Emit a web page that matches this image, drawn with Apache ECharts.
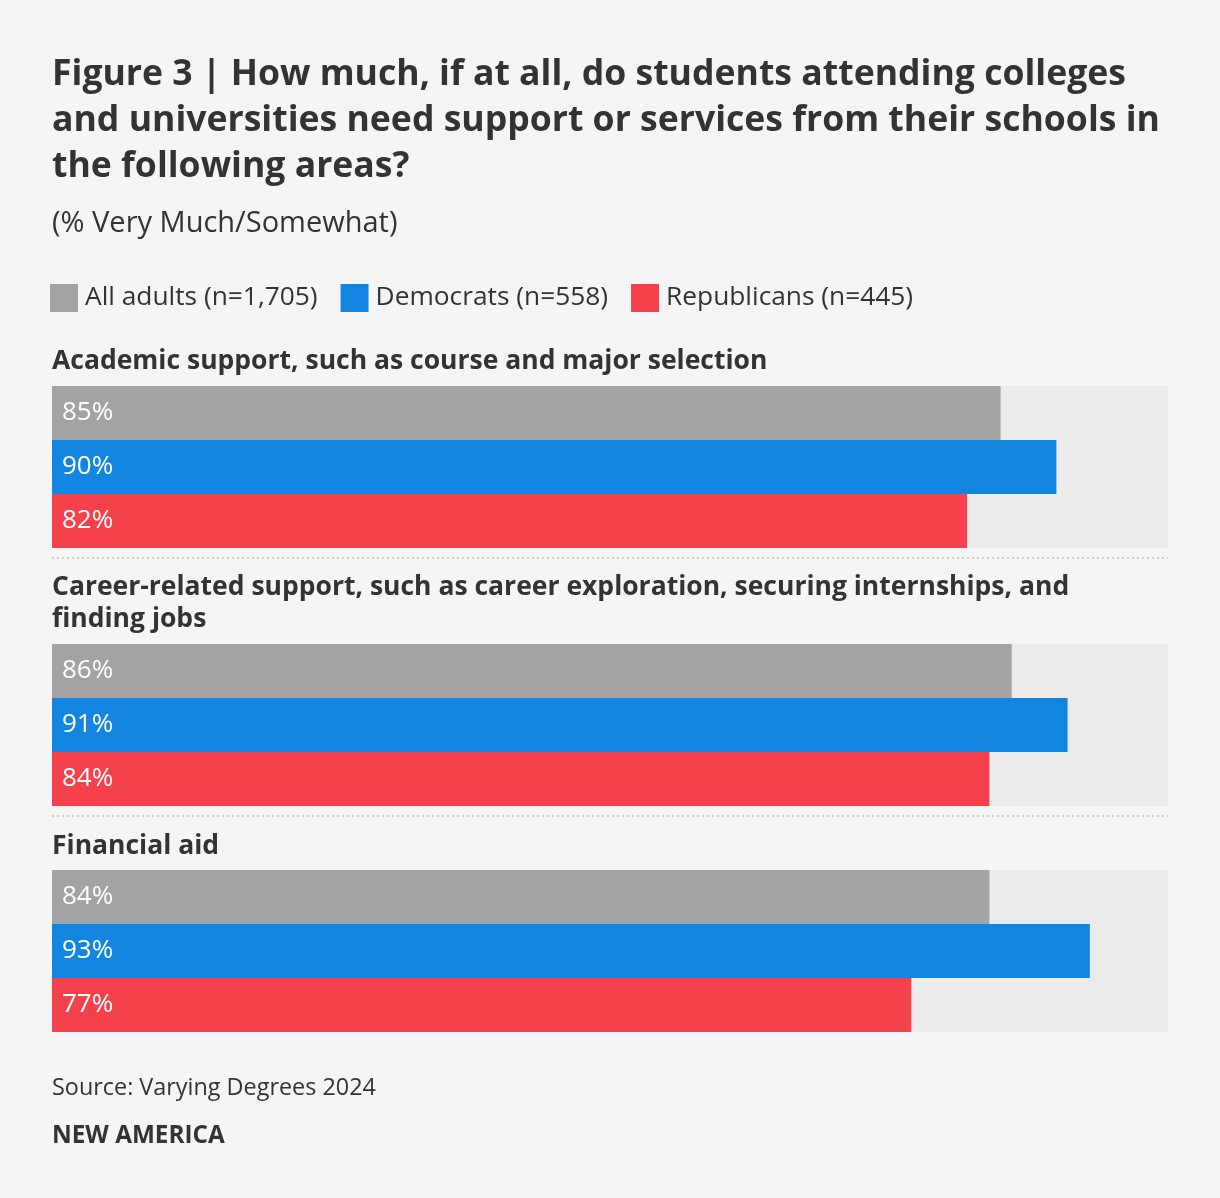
<!DOCTYPE html>
<html>
<head>
<meta charset="utf-8">
<title>Figure 3</title>
<script src="https://cdn.jsdelivr.net/npm/echarts@6/dist/echarts.min.js"></script>
<style>
  html, body { margin: 0; padding: 0; background: #f5f5f5; }
</style>
</head>
<body>
	<div id="main" style="width: 1220px; height: 1198px;"></div>

	<script type="text/javascript">
		// data
		var groups = [
		    'Academic support, such as course and major selection',
		    'Career-related support, such as career exploration, securing internships, and\nfinding jobs',
		    'Financial aid'
		];
		var seriesNames = ['All adults (n=1,705)', 'Democrats (n=558)', 'Republicans (n=445)'];
		var allAdults   = [85, 86, 84];
		var democrats   = [90, 91, 93];
		var republicans = [82, 84, 77];
		var colors = ['#a3a3a3', '#1185e0', '#f5414b'];

		var FONT = 'Open Sans';
		var myChart = echarts.init(document.getElementById('main'));

		// layout of the three panels
		var gridTops = [386, 644, 870];
		var grids = [], xAxes = [], yAxes = [], series = [];
		var values = [allAdults, democrats, republicans];

		for (var g = 0; g < groups.length; g++) {
		    grids.push({ left: 52, width: 1116, top: gridTops[g], height: 162 });
		    xAxes.push({ gridIndex: g, type: 'value', min: 0, max: 100, show: false });
		    yAxes.push({ gridIndex: g, type: 'category', data: [''], inverse: true, show: false });
		    for (var s = 0; s < seriesNames.length; s++) {
		        series.push({
		            name: seriesNames[s],
		            type: 'bar',
		            xAxisIndex: g,
		            yAxisIndex: g,
		            barWidth: 54,
		            barGap: '0%',
		            barCategoryGap: '0%',
		            showBackground: true,
		            backgroundStyle: { color: '#ebebeb' },
		            itemStyle: { color: colors[s] },
		            label: {
		                show: true,
		                position: 'insideLeft',
		                distance: 10,
		                formatter: '{c}%',
		                color: '#fff',
		                fontFamily: FONT,
		                fontSize: 26
		            },
		            data: [values[s][g]]
		        });
		    }
		}

		function txt(y, text, font, lh) {
		    return {
		        type: 'text', x: 52, y: y,
		        style: {
		            text: text, font: font, fill: '#333',
		            lineHeight: lh, verticalAlign: 'middle'
		        }
		    };
		}

		var graphics = [
		    txt(121, 'Figure 3 | How much, if at all, do students attending colleges\nand universities need support or services from their schools in\nthe following areas?', 'bold 35.6px ' + FONT, 46),
		    txt(224, '(% Very Much/Somewhat)', '29px ' + FONT, 34),
		    txt(1088, 'Source: Varying Degrees 2024', '23.4px ' + FONT, 28),
		    txt(1136, 'NEW AMERICA', 'bold 24.3px ' + FONT, 28)
		];
		var headY = [361, 603, 846];
		for (var h = 0; h < groups.length; h++) {
		    graphics.push(txt(headY[h], groups[h], 'bold 26.5px ' + FONT, 32));
		}
		[558, 816].forEach(function (y) {
		    graphics.push({
		        type: 'line',
		        shape: { x1: 52, y1: y, x2: 1168, y2: y },
		        style: { stroke: '#cfcfcf', lineWidth: 2, lineDash: [2, 3] }
		    });
		});

		option = {
		    backgroundColor: '#f5f5f5',
		    animation: false,
		    legend: {
		        left: 45, top: 279,
		        data: seriesNames,
		        icon: 'rect',
		        itemWidth: 28,
		        itemHeight: 28,
		        itemGap: 23,
		        textStyle: { fontFamily: FONT, fontSize: 26.3, color: '#333', padding: [0, 0, 0, 2] }
		    },
		    grid: grids,
		    xAxis: xAxes,
		    yAxis: yAxes,
		    series: series,
		    graphic: graphics
		};

		myChart.setOption(option);
	</script>
</body>
</html>
